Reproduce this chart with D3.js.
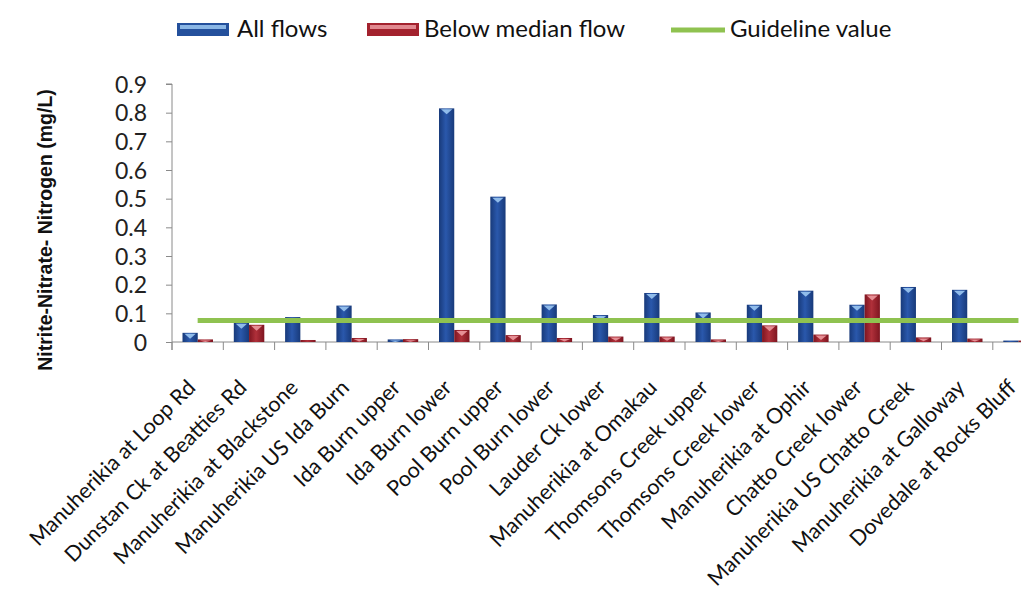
<!DOCTYPE html>
<html>
<head>
<meta charset="utf-8">
<script src="https://cdn.jsdelivr.net/npm/d3@7"></script>
<style>
  html, body { margin: 0; padding: 0; background: #fff; }
  svg { display: block; }
</style>
</head>
<body>
<svg id="chart" width="1021" height="606"></svg>
<script>
// Sampling sites along the Manuherikia catchment
const sites = [
  "Manuherikia at Loop Rd",
  "Dunstan Ck at Beatties Rd",
  "Manuherikia at Blackstone",
  "Manuherikia US Ida Burn",
  "Ida Burn upper",
  "Ida Burn lower",
  "Pool Burn upper",
  "Pool Burn lower",
  "Lauder Ck lower",
  "Manuherikia at Omakau",
  "Thomsons Creek upper",
  "Thomsons Creek lower",
  "Manuherikia at Ophir",
  "Chatto Creek lower",
  "Manuherikia US Chatto Creek",
  "Manuherikia at Galloway",
  "Dovedale at Rocks Bluff"
];

// Median nitrite-nitrate-nitrogen (mg/L)
const allFlows = [0.032, 0.067, 0.087, 0.127, 0.009, 0.815, 0.507, 0.131, 0.094, 0.171,
                  0.103, 0.130, 0.179, 0.130, 0.192, 0.182, 0.005];
const belowMedianFlow = [0.009, 0.060, 0.007, 0.014, 0.010, 0.042, 0.024, 0.014, 0.019, 0.019,
                         0.009, 0.058, 0.026, 0.166, 0.016, 0.012, 0.005];
const guidelineValue = 0.075;

const yTicks = [0, 0.1, 0.2, 0.3, 0.4, 0.5, 0.6, 0.7, 0.8, 0.9];
const seriesKeys = ["All flows", "Below median flow"];

const svg = d3.select("#chart");
const defs = svg.append("defs");

const x0 = 172, y0 = 342, yTop = 84;
const step = 51.3;

const x = d3.scaleBand().domain(sites).range([x0, x0 + step * sites.length]).padding(0);
const xSub = d3.scaleBand().domain(seriesKeys).range([10.5, 41]).padding(0);
const y = d3.scaleLinear().domain([0, 0.9]).range([y0, yTop]);

// Bar shading: darker edges, lighter middle
function hGrad(id, edge, mid) {
  const g = defs.append("linearGradient").attr("id", id)
    .attr("x1", "0").attr("x2", "1").attr("y1", "0").attr("y2", "0");
  g.append("stop").attr("offset", "0%").attr("stop-color", edge);
  g.append("stop").attr("offset", "45%").attr("stop-color", mid);
  g.append("stop").attr("offset", "100%").attr("stop-color", edge);
}
hGrad("gBlue", "#183a7a", "#2a58ac");
hGrad("gRed", "#7e1520", "#b0303a");

const style = {
  "All flows": { fill: "url(#gBlue)", hi: "#9cc8f2", solid: "#24509c" },
  "Below median flow": { fill: "url(#gRed)", hi: "#ec9aa0", solid: "#a3222e" }
};

const rows = sites.map((s, i) => ({ site: s, values: [
  { key: "All flows", v: allFlows[i] },
  { key: "Below median flow", v: belowMedianFlow[i] }
]}));

// Axes
const yAxis = d3.axisLeft(y).tickValues(yTicks).tickSize(6).tickFormat(d => d === 0 ? "0" : d3.format(".1f")(d));
const gy = svg.append("g").attr("transform", `translate(${x0},0)`).call(yAxis);
gy.select(".domain").attr("stroke", "#8a8a8a").attr("d", `M-6,${yTop}H0V${y0 + 8}`);
gy.selectAll(".tick line").attr("stroke", "#8a8a8a");
gy.selectAll(".tick text")
  .attr("font-family", "Lato, 'Open Sans', sans-serif")
  .attr("font-size", 23).attr("fill", "#222").attr("x", -25).attr("dy", "0.36em");

const xAxis = d3.axisBottom(x).tickSize(0).tickFormat("");
const gx = svg.append("g").attr("transform", `translate(0,${y0})`).call(xAxis);
gx.select(".domain").attr("stroke", "#8a8a8a").attr("d", `M${x0},0H1021`);
gx.selectAll(".tick").remove();

// Category boundary ticks
const bounds = d3.range(sites.length + 1).map(i => x0 + i * x.step());
svg.append("g").selectAll("line").data(bounds).join("line")
  .attr("x1", d => d).attr("x2", d => d)
  .attr("y1", y0).attr("y2", y0 + 8)
  .attr("stroke", "#8a8a8a");

// Bars
const groups = svg.append("g").selectAll("g").data(rows).join("g")
  .attr("transform", d => `translate(${x(d.site)},0)`);

const bars = groups.selectAll("g").data(d => d.values).join("g");
bars.append("rect")
  .attr("x", d => xSub(d.key))
  .attr("y", d => y(d.v))
  .attr("width", xSub.bandwidth())
  .attr("height", d => y0 - y(d.v))
  .attr("fill", d => style[d.key].fill);
// top bevel highlight
bars.append("path")
  .attr("d", d => {
    const bx = xSub(d.key), bw = xSub.bandwidth(), by = y(d.v);
    const h = Math.min(5, (y0 - by) * 0.6);
    if (h < 1.5) return "";
    return `M${bx + 2},${by + 1}H${bx + bw - 2}L${bx + bw / 2},${by + 1 + h}Z`;
  })
  .attr("fill", d => style[d.key].hi).attr("opacity", 0.9);

// Guideline line through category centres
const line = d3.line().x(d => x(d) + x.bandwidth() / 2).y(() => y(guidelineValue));
svg.append("path").datum(sites).attr("d", line)
  .attr("fill", "none").attr("stroke", "#8fc250").attr("stroke-width", 5);

// Category labels
svg.append("g").selectAll("text").data(sites).join("text")
  .attr("transform", d => `translate(${x(d) + x.bandwidth() / 2 - 1},${y0 + 47}) rotate(-45)`)
  .attr("text-anchor", "end")
  .attr("font-family", "Lato, 'Open Sans', sans-serif")
  .attr("font-size", 21.5).attr("fill", "#111")
  .text(d => d);

// Y axis title
svg.append("text")
  .attr("transform", `translate(52,230) rotate(-90)`)
  .attr("text-anchor", "middle")
  .attr("font-family", "'Liberation Sans', Arial, sans-serif")
  .attr("font-weight", "bold").attr("font-size", 19.5).attr("fill", "#111")
  .text("Nitrite-Nitrate- Nitrogen (mg/L)");

// Legend
const legend = svg.append("g");
const legendItems = [
  { key: "All flows", sx: 177, tx: 237 },
  { key: "Below median flow", sx: 367, tx: 424 },
  { key: "Guideline value", sx: 671, tx: 730 }
];
legendItems.forEach(it => {
  if (it.key === "Guideline value") {
    legend.append("line").attr("x1", it.sx).attr("x2", it.sx + 54).attr("y1", 30).attr("y2", 30)
      .attr("stroke", "#8fc250").attr("stroke-width", 5);
  } else {
    legend.append("rect").attr("x", it.sx).attr("y", 23).attr("width", 52).attr("height", 13)
      .attr("fill", style[it.key].solid);
    legend.append("rect").attr("x", it.sx + 3).attr("y", 25).attr("width", 46).attr("height", 4)
      .attr("fill", style[it.key].hi).attr("opacity", 0.85);
  }
  legend.append("text").attr("x", it.tx).attr("y", 37)
    .attr("font-family", "Lato, 'Open Sans', sans-serif")
    .attr("font-size", 24).attr("fill", "#111")
    .text(it.key);
});
</script>
</body>
</html>
